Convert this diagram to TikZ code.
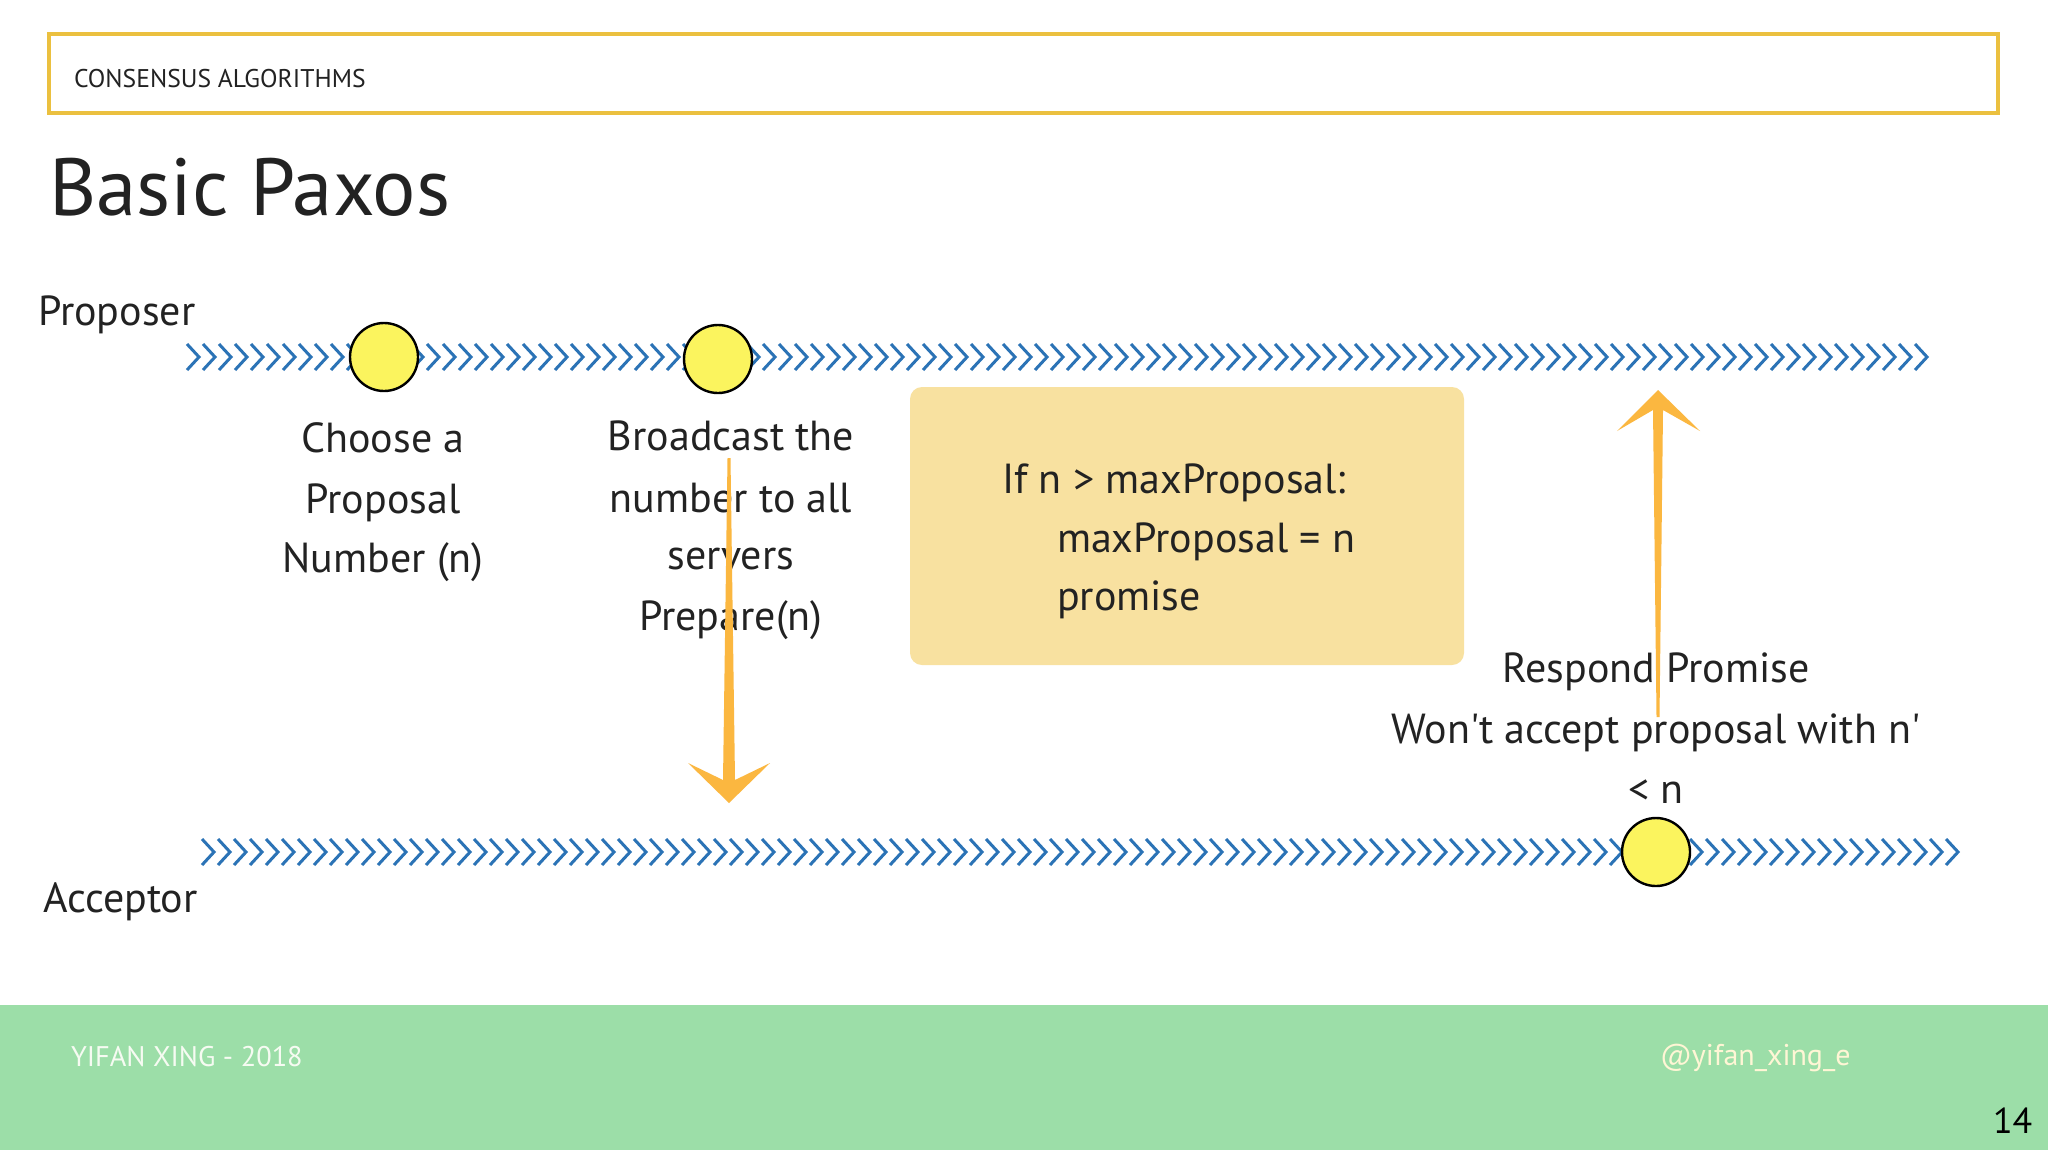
\documentclass[tikz,border=0pt]{standalone}
\usepackage{fontspec}
\newfontfamily\hand{PT Sans}
\usetikzlibrary{calc}
\definecolor{ink}{HTML}{222222}
\definecolor{headerc}{HTML}{EBC03F}
\definecolor{chevblue}{HTML}{2B73B6}
\definecolor{dotyellow}{HTML}{FBF45E}
\definecolor{arrowor}{HTML}{FBB740}
\definecolor{boxfill}{HTML}{F8E1A0}
\definecolor{footg}{HTML}{9CDEA8}
\definecolor{footw}{HTML}{F6FBF2}
\definecolor{cream}{HTML}{FFF6D5}
\begin{document}
\begin{tikzpicture}[x=0.5pt,y=-0.5pt,
  every node/.style={inner sep=0pt, outer sep=0pt},
  lbl/.style={font=\hand\fontsize{21}{25}\selectfont, text=ink, anchor=base},
  lblw/.style={lbl, anchor=base west},
  dot/.style={circle, draw=black, line width=1.2pt, fill=dotyellow, minimum size=34pt},
  chev/.style={draw=chevblue, line width=1.5pt},
  arrowfill/.style={fill=arrowor}]
\useasboundingbox (0,0) rectangle (2048,1152);
\fill[white] (0,0) rectangle (2048,1152);

% header
\node[draw=headerc, line width=2pt, minimum width=974.5pt, minimum height=39.5pt, anchor=north west] (hdr) at (49,34) {};
\node[font=\hand\fontsize{12.8}{15}\selectfont, text=ink, anchor=base west] (hdrtext) at (74,87) {CONSENSUS ALGORITHMS};
\node[font=\hand\fontsize{40.5}{48}\selectfont, text=ink, anchor=base west] (title) at (49,215) {Basic Paxos};

% footer
\node[fill=footg, minimum width=1024pt, minimum height=72.5pt, anchor=north west] (foot) at (0,1005) {};
\node[font=\hand\fontsize{14.2}{16}\selectfont, text=footw, anchor=base west] (author) at (71,1066) {YIFAN XING - 2018};
\node[font=\hand\fontsize{15}{18}\selectfont, text=cream, anchor=base west] (handle) at (1660,1065) {@yifan\_xing\_e};
\node[font=\hand\fontsize{18}{22}\selectfont, text=black, anchor=base west] (page) at (1993,1133) {14};

% lanes
\node[lblw] (proposer) at (38,325) {Proposer};
\node[lblw] (acceptor) at (43,912) {Acceptor};
\coordinate (pL) at (187,357);
\coordinate (aL) at (202,852);
\foreach \i in {0,...,108}
  \draw[chev] ($(pL)+(16*\i,-13)$) -- ++(12,13) -- ++(-12,13);
\foreach \i in {0,...,109}
  \draw[chev] ($(aL)+(16*\i,-13)$) -- ++(12,13) -- ++(-12,13);

\node[dot] (c1) at (384,357) {};
\node[dot] (c2) at (718,359) {};
\node[dot] (c3) at (1656,852) {};

% condition box
\node[fill=boxfill, rounded corners=6pt, minimum width=277pt, minimum height=139pt, anchor=north west] (cond) at (910,387) {};
\node[lblw] (cond1) at (1002,493) {If n > maxProposal:};
\node[lblw] (cond2) at (1057,552) {maxProposal = n};
\node[lblw] (cond3) at (1057,610) {promise};

% labels
\node[lbl] (ch1) at (383,452) {Choose a};
\node[lbl] (ch2) at (383,513) {Proposal};
\node[lbl] (ch3) at (383,572) {Number (n)};
\node[lbl] (br1) at (731,450) {Broadcast the};
\node[lbl] (br2) at (731,512) {number to all};
\node[lbl] (br3) at (731,569) {servers};
\node[lbl] (br4) at (731,630) {Prepare(n)};
\node[lbl] (rp1) at (1656,682) {Respond Promise};
\node[lbl] (rp2) at (1656,743) {Won't accept proposal with n'};
\node[lbl] (rp3) at (1656,803) {< n};

% arrows
\coordinate (dTop) at (729,458);
\coordinate (dTip) at (729,803);
\fill[arrowfill] ($(dTop)+(-1.5,0)$) -- ($(dTop)+(1.5,0)$) -- ($(dTip)+(6,-23)$) -- ($(dTip)+(41,-40)$) -- (dTip) -- ($(dTip)+(-41,-40)$) -- ($(dTip)+(-6,-23)$) -- cycle;
\coordinate (uBot) at (1658,717);
\coordinate (uTip) at (1658,390);
\fill[arrowfill] ($(uBot)+(-1.5,0)$) -- ($(uBot)+(1.5,0)$) -- ($(uTip)+(5,20)$) -- ($(uTip)+(42,41)$) -- (uTip) -- ($(uTip)+(-41,41)$) -- ($(uTip)+(-5,20)$) -- cycle;
\end{tikzpicture}
\end{document}
